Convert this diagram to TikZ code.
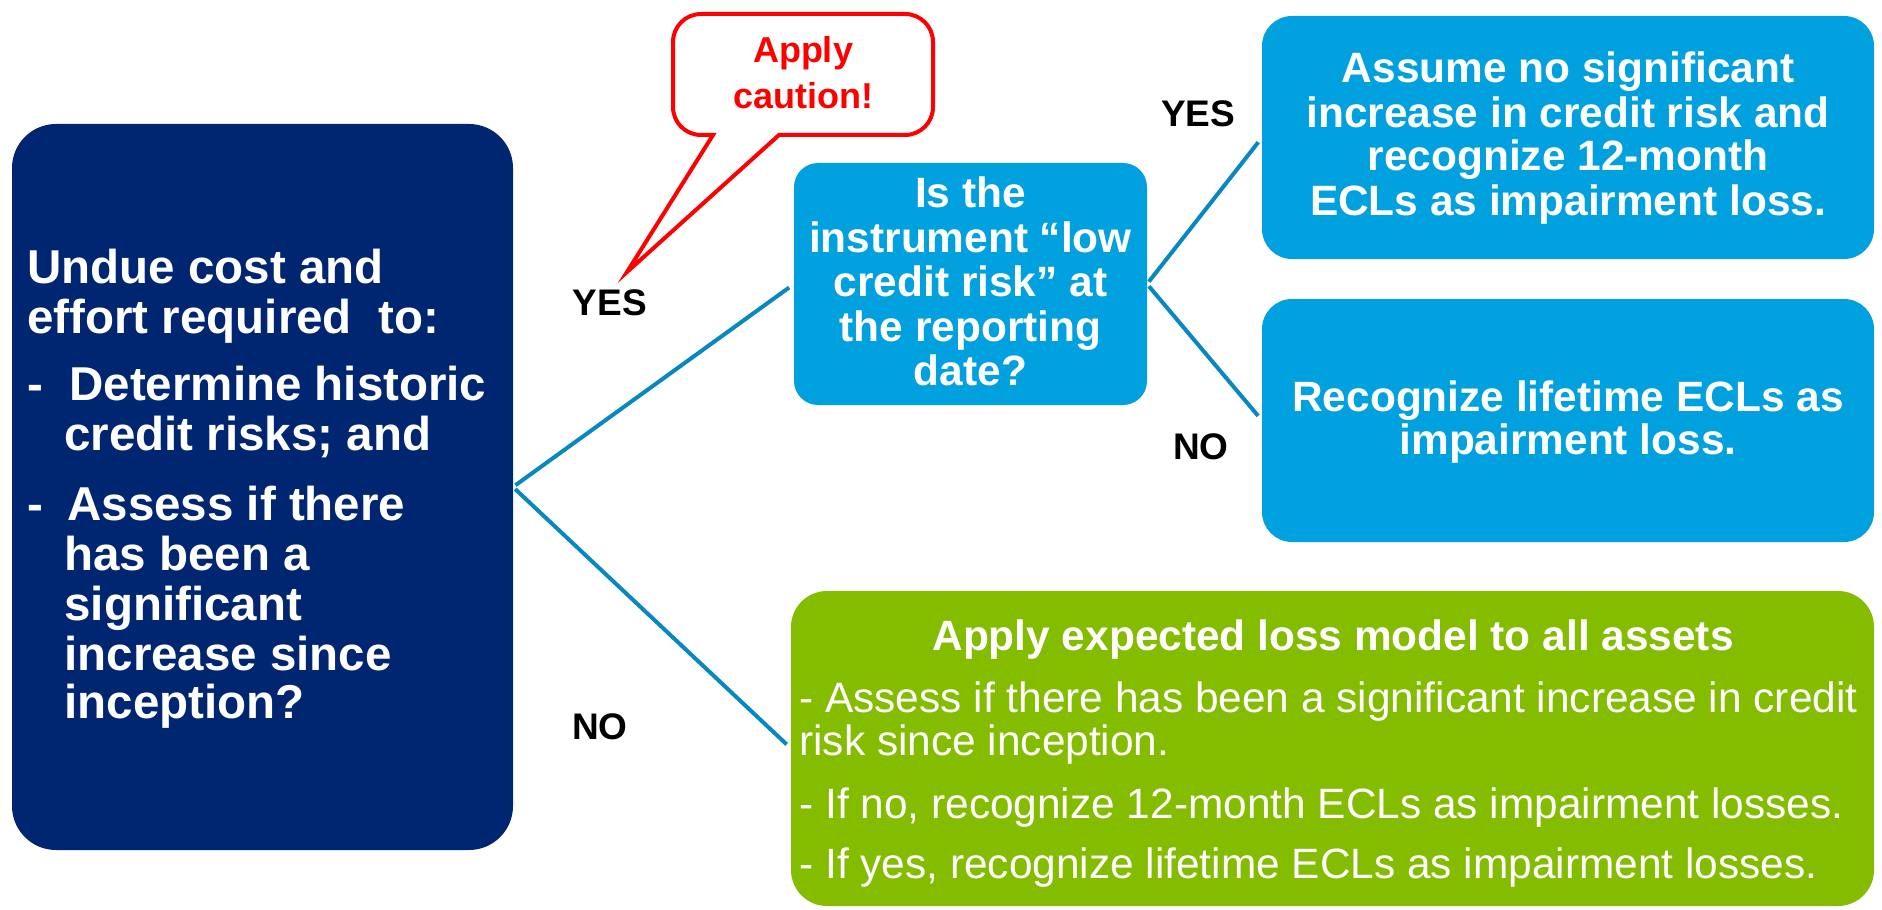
\documentclass[tikz,border=0pt]{standalone}
\usepackage{fontspec}
\setmainfont{Liberation Sans}
\definecolor{navy}{RGB}{0,38,114}
\definecolor{sky}{RGB}{0,161,222}
\definecolor{lime}{RGB}{132,189,0}
\definecolor{linkblue}{RGB}{8,136,192}
\definecolor{alertred}{RGB}{255,0,0}
\begin{document}
\begin{tikzpicture}[x=0.5pt,y=-0.5pt,
  panel/.style={rectangle, inner sep=0pt, outer sep=0pt, draw=none},
  link/.style={draw=linkblue, line width=2pt, shorten <=1.5pt, shorten >=3pt},
  dk/.style={anchor=base west, inner sep=0pt, text=white, font=\fontsize{23.75}{25}\selectfont\bfseries},
  wb/.style={anchor=base, inner sep=0pt, text=white, font=\fontsize{21.2}{22}\selectfont\bfseries},
  wr/.style={anchor=base west, inner sep=0pt, text=white, font=\fontsize{21.2}{22}\selectfont},
  lbl/.style={inner sep=0pt, text=black, font=\fontsize{18.5}{20}\selectfont\bfseries},
  warn/.style={anchor=base, inner sep=0pt, text=alertred, font=\fontsize{18}{20}\selectfont\bfseries}]
\useasboundingbox (0,0) rectangle (1882,909);

% panels
\node[panel, fill=navy, rounded corners=22pt, minimum width=250.5pt, minimum height=363pt] (dark) at (262.5,487) {};
\node[panel, fill=sky, rounded corners=12pt, minimum width=176.5pt, minimum height=121pt] (q) at (970.5,284) {};
\node[panel, fill=sky, rounded corners=15pt, minimum width=306pt, minimum height=121.5pt] (tr) at (1568,137.5) {};
\node[panel, fill=sky, rounded corners=15pt, minimum width=306pt, minimum height=121.5pt] (mr) at (1568,420.5) {};
\node[panel, fill=lime, rounded corners=18pt, minimum width=541.5pt, minimum height=157.5pt] (gr) at (1332.5,748.5) {};

% connectors
\draw[link] (dark.east) -- (q.west);
\draw[link] (dark.east) -- (gr.west);
\draw[link] (q.east) -- (tr.west);
\draw[link] (q.east) -- (mr.west);

% callout
\draw[draw=alertred, fill=white, line width=2pt, line join=miter]
  (713,135) -- (627,272) -- (779,135) -- (905,135)
  .. controls (920.5,135) and (933,122.5) .. (933,107) -- (933,42)
  .. controls (933,26.5) and (920.5,14) .. (905,14) -- (701,14)
  .. controls (685.5,14) and (673,26.5) .. (673,42) -- (673,107)
  .. controls (673,122.5) and (685.5,135) .. (701,135) -- cycle;
\node[warn] (c1) at (803,63) {Apply};
\node[warn] (c2) at (803,109) {caution!};

% dark panel text
\node[dk] (d1) at (27,283) {Undue cost and};
\node[dk] (d2) at (27,333) {effort required\ \ to:};
\node[dk] (d3) at (27,400) {-};
\node[dk] (d3b) at (69,400) {Determine historic};
\node[dk] (d4) at (64,450) {credit risks; and};
\node[dk] (d5) at (27,520) {-};
\node[dk] (d5b) at (67,520) {Assess if there};
\node[dk] (d6) at (64,570) {has been a};
\node[dk] (d7) at (64,620) {significant};
\node[dk] (d8) at (64,670) {increase since};
\node[dk] (d9) at (64,718) {inception?};

% question text
\node[wb] (q1) at (970.5,207) {Is the};
\node[wb] (q2) at (970.5,252) {instrument “low};
\node[wb] (q3) at (970.5,296) {credit risk” at};
\node[wb] (q4) at (970.5,341) {the reporting};
\node[wb] (q5) at (970.5,385) {date?};

% top right text
\node[wb] (t1) at (1568,83) {Assume no significant};
\node[wb] (t2) at (1568,127.5) {increase in credit risk and};
\node[wb] (t3) at (1568,171) {recognize 12-month};
\node[wb] (t4) at (1568,215) {ECLs as impairment loss.};

% middle right text
\node[wb] (m1) at (1568,411) {Recognize lifetime ECLs as};
\node[wb] (m2) at (1568,454) {impairment loss.};

% green text
\node[wb] (g0) at (1333,650) {Apply expected loss model to all assets};
\node[wr] (g1) at (799,712) {- Assess if there has been a significant increase in credit};
\node[wr] (g2) at (799,755) {risk since inception.};
\node[wr] (g3) at (799,818) {- If no, recognize 12-month ECLs as impairment losses.};
\node[wr] (g4) at (799,878) {- If yes, recognize lifetime ECLs as impairment losses.};

% labels
\node[lbl] (yes1) at (610,303) {YES};
\node[lbl] (no1) at (600,727) {NO};
\node[lbl] (yes2) at (1198,114) {YES};
\node[lbl] (no2) at (1201,447) {NO};
\end{tikzpicture}
\end{document}
